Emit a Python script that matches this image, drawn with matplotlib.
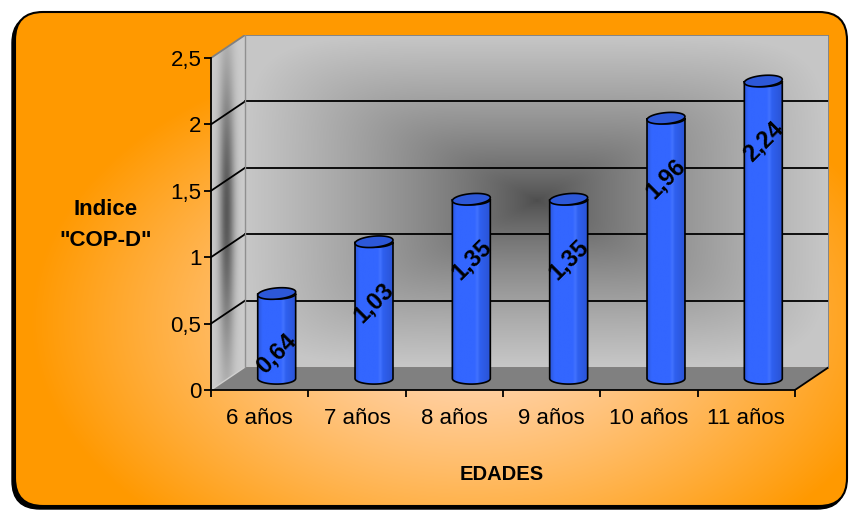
import numpy as np
import matplotlib.pyplot as plt
from matplotlib.patches import Polygon, FancyBboxPatch
from matplotlib.colors import LinearSegmentedColormap

# data
categories = ['6 años', '7 años', '8 años', '9 años', '10 años', '11 años']
values = [0.64, 1.03, 1.35, 1.35, 1.96, 2.24]
value_labels = ['0,64', '1,03', '1,35', '1,35', '1,96', '2,24']
y_ticks = [0, 0.5, 1, 1.5, 2, 2.5]
y_tick_labels = ['0', '0,5', '1', '1,5', '2', '2,5']

plt.rcParams['font.family'] = ['Liberation Sans', 'DejaVu Sans']

W, H = 854, 512
fig = plt.figure(figsize=(8.54, 5.12), dpi=100)

# orange rounded panel behind the chart
bg = fig.add_axes([0, 0, 1, 1])
bg.set_xlim(0, W)
bg.set_ylim(H, 0)
bg.axis('off')

yy, xx = np.mgrid[0:H, 0:W]
d = np.sqrt(((xx - 470) / 440.0) ** 2 + ((yy - 320) / 280.0) ** 2)
t = np.clip(d, 0, 1) ** 1.2
inner = np.array([1.0, 0.86, 0.77])
outer = np.array([1.0, 0.60, 0.0])
img = inner * (1 - t[..., None]) + outer * t[..., None]

shadow = FancyBboxPatch((12, 15), 833, 494, boxstyle='round,pad=0,rounding_size=28',
                        facecolor='black', edgecolor='black', lw=1)
bg.add_patch(shadow)
panel = FancyBboxPatch((15, 12), 832, 494, boxstyle='round,pad=0,rounding_size=28',
                       facecolor='none', edgecolor='black', lw=1.5, zorder=3)
bg.add_patch(panel)
im = bg.imshow(img, extent=(0, W, H, 0), zorder=2)
im.set_clip_path(panel)

# main axes (front plane of the 3D box)
DX, DY = 0.35, 0.173
ax = fig.add_axes([211 / W, (H - 390) / H, 618 / W, 355 / H])
ax.patch.set_visible(False)
ax.set_xlim(-0.5, 5.5 + DX)
ax.set_ylim(0, 2.5 + DY)
x0, x1 = -0.5, len(categories) - 0.5

# back wall, rectangular gradient from the centre
v, u = np.mgrid[-1:1:200j, -1:1:300j]
dd = (np.abs(u) ** 6 + np.abs(v) ** 6) ** (1 / 6)
dd = np.clip(dd, 0, 1) ** 0.75
wall = 0.30 + (0.78 - 0.30) * dd
ax.imshow(np.dstack([wall] * 3), extent=(x0 + DX, x1 + DX, DY, 2.5 + DY),
          aspect='auto', zorder=0)

# left wall
lw_v, lw_u = np.mgrid[0:1:200j, 0:1:50j]
side = 0.80 - 0.45 * np.exp(-((lw_u - 0.45) / 0.22) ** 2) * np.exp(-((lw_v - 0.5) / 0.4) ** 2)
side_poly = Polygon([(x0, 0), (x0 + DX, DY), (x0 + DX, 2.5 + DY), (x0, 2.5)],
                    closed=True, facecolor='none', edgecolor='none')
ax.add_patch(side_poly)
sim = ax.imshow(np.dstack([side] * 3), extent=(x0, x0 + DX, 0, 2.5 + DY),
                aspect='auto', origin='lower', zorder=0.5)
sim.set_clip_path(side_poly)

# floor
ax.add_patch(Polygon([(x0, 0), (x1, 0), (x1 + DX, DY), (x0 + DX, DY)], closed=True,
                     facecolor='#808080', edgecolor='none', zorder=1))
ax.plot([x1, x1 + DX], [0, DY], color='black', lw=1.3, zorder=2)
ax.plot([x0, x0 + DX], [0, DY], color='#d0d0d0', lw=1, zorder=2)

# gridlines
for yt in y_ticks[1:-1]:
    ax.plot([x0 + DX, x1 + DX], [yt + DY, yt + DY], color='black', lw=1.3, zorder=2)
    ax.plot([x0, x0 + DX], [yt, yt + DY], color='black', lw=1.3, zorder=2)
ax.plot([x0, x0 + DX, x1 + DX, x1 + DX], [2.5, 2.5 + DY, 2.5 + DY, DY],
        color='#808080', lw=1.3, zorder=2)
ax.plot([x0 + DX, x0 + DX], [DY, 2.5 + DY], color='#909090', lw=1, zorder=2)

# cylinders
body_cmap = LinearSegmentedColormap.from_list('body', [
    (0.0, '#2C58DC'), (0.12, '#3366FF'), (0.6, '#3366FF'), (0.67, '#4273FF'),
    (0.74, '#2F60F0'), (1.0, '#2A54D6')])
R, EY = 0.195, 0.042
for i, val in enumerate(values):
    cx = i + DX / 2
    base = DY / 2
    top = val + DY / 2
    tt = np.linspace(np.pi, 2 * np.pi, 60)
    top_arc = np.column_stack([cx + R * np.cos(tt), top + EY * np.sin(tt)])
    bot_arc = np.column_stack([cx + R * np.cos(tt[::-1]), base + EY * np.sin(tt[::-1])])
    pts = np.vstack([top_arc, bot_arc])
    clip = Polygon(pts, closed=True, facecolor='none', edgecolor='none')
    ax.add_patch(clip)
    grad = ax.imshow(np.linspace(0, 1, 100)[None, :], cmap=body_cmap,
                     extent=(cx - R, cx + R, base - EY, top), aspect='auto', zorder=3)
    grad.set_clip_path(clip)
    ax.add_patch(Polygon(pts, closed=True, facecolor='none', edgecolor='black',
                         lw=1.2, zorder=3.2))
    ta = np.linspace(0, 2 * np.pi, 100)
    cap = np.column_stack([cx + R * np.cos(ta), top + EY * np.sin(ta) + 0.012 * np.cos(ta)])
    ax.add_patch(Polygon(cap, closed=True, facecolor='#2D58D8', edgecolor='black',
                         lw=1.2, zorder=3.3))
    ax.text(cx, val - 0.37, value_labels[i], rotation=45, ha='center', va='center',
            fontsize=17, fontweight='bold', color='black', zorder=5)

# axes, ticks, labels
for s in ['top', 'right']:
    ax.spines[s].set_visible(False)
ax.spines['left'].set_bounds(0, 2.5)
ax.spines['bottom'].set_bounds(x0, x1)
for s in ['left', 'bottom']:
    ax.spines[s].set_linewidth(1.3)
    ax.spines[s].set_zorder(4)

ax.set_yticks(y_ticks)
ax.set_yticklabels(y_tick_labels, fontsize=16)
ax.tick_params(axis='y', direction='out', length=5, width=1.3, pad=2)
ax.set_xticks(range(len(categories)))
ax.set_xticklabels(categories, fontsize=16)
ax.set_xticks(np.arange(x0, x1 + 0.01, 1.0), minor=True)
ax.tick_params(axis='x', which='major', length=0, pad=13)
ax.tick_params(axis='x', which='minor', direction='out', length=5, width=1.3)

ax.set_ylabel('Indice\n"COP-D"', rotation=0, fontsize=16, fontweight='bold',
              ha='center', va='center', linespacing=1.65)
ax.yaxis.set_label_coords(-0.170, 0.465)
ax.set_xlabel('EDADES', fontsize=14.5, fontweight='bold')
ax.xaxis.set_label_coords(0.470, -0.211)

fig.savefig('out.png', dpi=100)
